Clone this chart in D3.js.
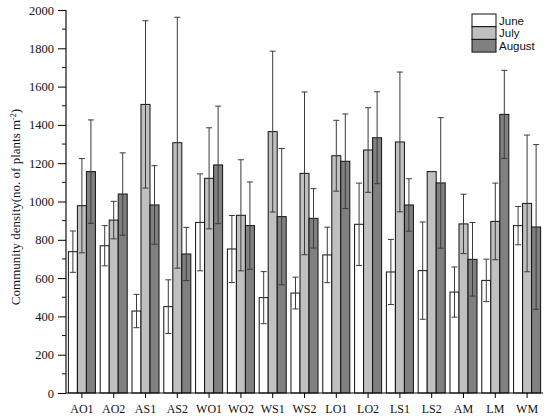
<!DOCTYPE html>
<html><head><meta charset="utf-8">
<script src="https://cdn.jsdelivr.net/npm/d3@7"></script>
<style>body{margin:0;background:#fff}</style>
</head><body>
<svg id="chart" width="550" height="420"></svg>
<script>
const categories = ["AO1","AO2","AS1","AS2","WO1","WO2","WS1","WS2","LO1","LO2","LS1","LS2","AM","LM","WM"];
const months = ["June","July","August"];
const juneValues   = [738, 769, 428, 451, 891, 752, 498, 522, 721, 881, 632, 639, 527, 588, 874];
const juneErrors   = [108, 105,  87, 140, 253, 175, 136,  83, 145, 215, 170, 254, 131, 111, 100];
const julyValues   = [978, 903,1507,1307,1121, 928,1365,1147,1239,1269,1311,1156, 883, 896, 990];
const julyErrors   = [246,  98, 437, 655, 264, 290, 420, 425, 185, 221, 365, null,155, 200, 357];
const augustValues = [1156,1039, 982, 726,1191, 874, 921, 912,1210,1333, 982,1097, 698,1455, 867];
const augustErrors = [270, 215, 205, 139, 307, 228, 356, 155, 247, 240, 137, 341, 192, 230, 430];
const yTicks = [0,200,400,600,800,1000,1200,1400,1600,1800,2000];
const yTitle = "Community density(no. of plants m";

const series = [juneValues, julyValues, augustValues];
const errs = [juneErrors, julyErrors, augustErrors];
const fills = ["#ffffff", "#c0c0c0", "#808080"];

const svg = d3.select("#chart");
const L = 66, R = 543, T = 10, B = 393;
const y = d3.scaleLinear().domain([0, 2000]).range([B, T]);
const x = d3.scaleBand().domain(categories).range([L, R]).paddingInner(0.15).paddingOuter(0.075);
const x1 = d3.scaleBand().domain(months).range([0, x.bandwidth()]);

const serif = "'Liberation Serif','Times New Roman',serif";

// bars
const g = svg.append("g");
months.forEach((m, mi) => {
  g.selectAll(null).data(categories).join("rect")
    .attr("x", c => x(c) + x1(m))
    .attr("y", (c, i) => y(series[mi][i]))
    .attr("width", x1.bandwidth())
    .attr("height", (c, i) => y(0) - y(series[mi][i]))
    .attr("fill", fills[mi])
    .attr("stroke", "#111")
    .attr("stroke-width", 1);
});

// error bars
months.forEach((m, mi) => {
  categories.forEach((c, i) => {
    const e = errs[mi][i];
    if (e == null) return;
    const v = series[mi][i];
    const cx = x(c) + x1(m) + x1.bandwidth() / 2;
    const eg = svg.append("g").attr("stroke", "#3a3a3a").attr("stroke-width", 1);
    eg.append("line").attr("x1", cx).attr("x2", cx).attr("y1", y(v - e)).attr("y2", y(v + e));
    [v - e, v + e].forEach(t => {
      eg.append("line").attr("x1", cx - 3).attr("x2", cx + 3).attr("y1", y(t)).attr("y2", y(t));
    });
  });
});

// y axis
const yAxis = d3.axisLeft(y).tickValues(yTicks).tickSize(8).tickPadding(4).tickFormat(d3.format("d"));
const ya = svg.append("g").attr("transform", `translate(${L},0)`).call(yAxis);
ya.select(".domain").attr("stroke", "#111").attr("stroke-width", 1.2).attr("d", `M-0,${B}V${T}`);
ya.selectAll("text").attr("font-family", serif).attr("font-size", 12.5).attr("fill", "#111");
const minor = d3.range(100, 2000, 200);
svg.append("g").selectAll("line").data(minor).join("line")
  .attr("x1", L - 4).attr("x2", L).attr("y1", d => y(d)).attr("y2", d => y(d))
  .attr("stroke", "#111");

// x axis
const xAxis = d3.axisBottom(x).tickSize(5).tickPadding(6);
const xa = svg.append("g").attr("transform", `translate(0,${B})`).call(xAxis);
xa.select(".domain").attr("stroke", "#111").attr("stroke-width", 1.2).attr("d", `M${L},0H${R}`);
xa.selectAll("text").attr("font-family", serif).attr("font-size", 12).attr("fill", "#111");

// y title
const yt = svg.append("text")
  .attr("transform", `translate(20,207) rotate(-90)`)
  .attr("text-anchor", "middle")
  .attr("font-family", serif).attr("font-size", 13).attr("fill", "#111");
yt.append("tspan").text(yTitle);
yt.append("tspan").attr("baseline-shift", "super").attr("font-size", 8).text("-2");
yt.append("tspan").text(")");

// legend
const lg = svg.append("g").attr("transform", "translate(472,14)");
months.forEach((m, mi) => {
  lg.append("rect").attr("x", 0).attr("y", mi * 12.7).attr("width", 24).attr("height", 12.7)
    .attr("fill", fills[mi]).attr("stroke", "#111");
  lg.append("text").attr("x", 27).attr("y", mi * 12.7 + 10.5)
    .attr("font-family", "'Liberation Sans',Arial,sans-serif").attr("font-size", 11.5).attr("fill", "#111").text(m);
});
</script>
</body></html>
